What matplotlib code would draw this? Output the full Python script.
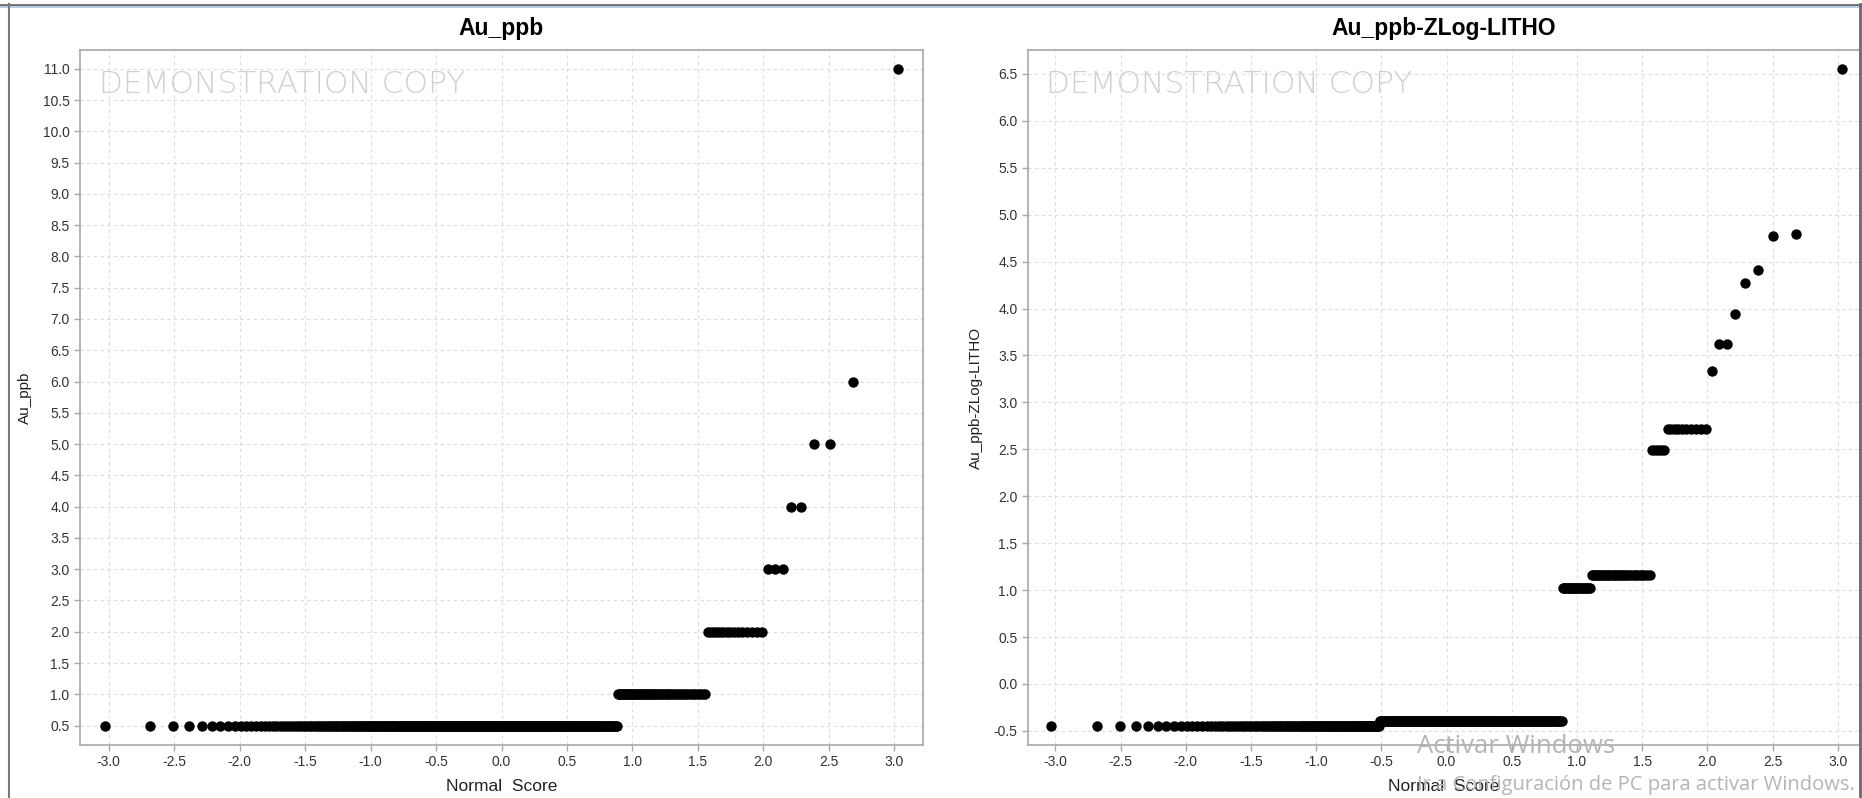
import numpy as np
import matplotlib
matplotlib.use("Agg")
import matplotlib.pyplot as plt
from matplotlib.lines import Line2D
from statistics import NormalDist

plt.rcParams['font.family'] = ['Liberation Sans', 'DejaVu Sans']
plt.rcParams['axes.unicode_minus'] = False

# sample values and how many samples carry each value (sorted ascending)
au_values = [0.5, 1.0, 2.0, 3.0, 4.0, 5.0, 6.0, 11.0]
au_counts = [333, 53, 15, 3, 2, 2, 1, 1]

zlog_values = [-0.446, -0.394, 1.022, 1.161, 2.488, 2.722, 3.340, 3.624,
               3.944, 4.274, 4.412, 4.777, 4.795, 6.550]
zlog_counts = [124, 209, 22, 31, 5, 10, 1, 2, 1, 1, 1, 1, 1, 1]

au_ticks = np.arange(0.5, 11.01, 0.5)
zlog_ticks = np.arange(-0.5, 6.51, 0.5)
score_ticks = np.arange(-3.0, 3.01, 0.5)

nd = NormalDist()


def normal_scores(values, counts):
    y = np.repeat(values, counts)
    n = len(y)
    x = np.array([nd.inv_cdf((i + 0.5) / n) for i in range(n)])
    return x, y


W, H = 1862, 798
fig = plt.figure(figsize=(W / 100, H / 100), dpi=100)
fig.patch.set_facecolor('white')


def panel(rect, values, counts, yticks, ylim, xlim, name):
    ax = fig.add_axes(rect)
    x, y = normal_scores(values, counts)
    ax.scatter(x, y, s=56, color='black', linewidths=0, zorder=3)
    ax.set_xlim(*xlim)
    ax.set_ylim(*ylim)
    ax.set_xticks(score_ticks)
    ax.set_yticks(yticks)
    ax.set_xticklabels(['%.1f' % v for v in score_ticks])
    ax.set_yticklabels(['%.1f' % v for v in yticks])
    ax.set_axisbelow(True)
    ax.grid(color='#dcdcdc', linestyle=(0, (3, 3)), linewidth=0.8)
    for s in ax.spines.values():
        s.set_color('#a8a8a8')
        s.set_linewidth(1.2)
    ax.tick_params(colors='#a8a8a8', labelcolor='#333333', labelsize=10,
                   length=4, width=1)
    ax.set_title(name, fontsize=16.5, fontweight='bold', pad=11)
    ax.set_xlabel('Normal  Score', fontsize=12.5, color='#222222', labelpad=7)
    ax.set_ylabel(name, fontsize=11, color='#222222', labelpad=8)
    ax.text(0.022, 0.95, 'DEMONSTRATION COPY', transform=ax.transAxes,
            fontsize=22.5, color='#d0d0d0', va='center', ha='left',
            family='DejaVu Sans', fontweight='light', zorder=1)
    return ax


panel([80 / W, 53 / H, 843 / W, 695 / H], au_values, au_counts, au_ticks,
      (0.19, 11.3), (-3.22, 3.22), 'Au_ppb')
panel([1028 / W, 53 / H, 832 / W, 695 / H], zlog_values, zlog_counts, zlog_ticks,
      (-0.65, 6.755), (-3.21, 3.17), 'Au_ppb-ZLog-LITHO')

# window frame around the plot area
fig.add_artist(Line2D([0, 1], [1 - 4.5 / H, 1 - 4.5 / H], color='#6a6a6a', lw=2))
fig.add_artist(Line2D([0, 1], [1 - 7 / H, 1 - 7 / H], color='#b9cde5', lw=1.5))
fig.add_artist(Line2D([8.5 / W, 8.5 / W], [0, 1 - 4 / H], color='#7a7a7a', lw=1.5))
fig.add_artist(Line2D([1 - 2 / W, 1 - 2 / W], [0, 1 - 4 / H], color='#6a6a6a', lw=2))

# system overlay text
fig.text(1417 / W, 1 - 753 / H, 'Activar Windows', fontsize=18.5,
         color='#b4b4b4', family='Open Sans', va='baseline', ha='left')
fig.text(1417 / W, 1 - 790 / H, 'Ir a Configuración de PC para activar Windows.',
         fontsize=14.5, color='#b4b4b4', family='Open Sans', va='baseline', ha='left')

fig.savefig('out.png', dpi=100, facecolor='white')
